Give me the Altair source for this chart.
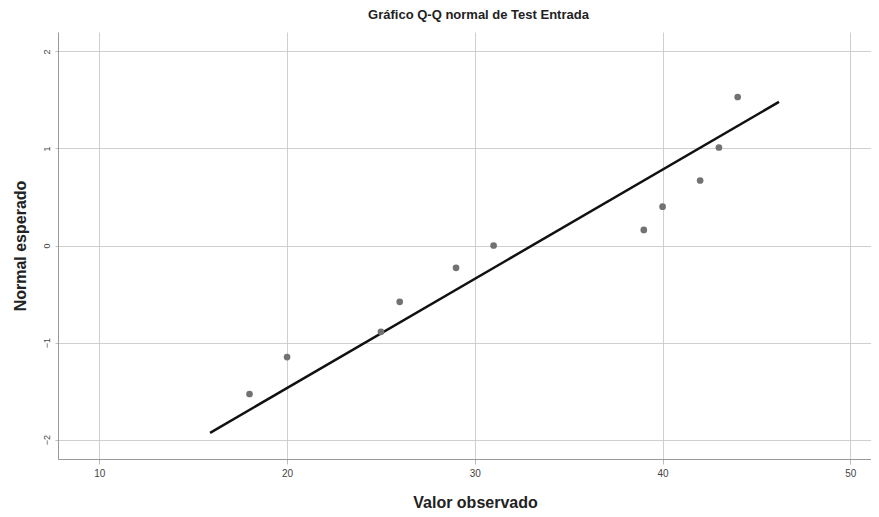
import altair as alt
import pandas as pd

observed = [18, 20, 25, 26, 29, 31, 39, 40, 42, 43, 44]
expected = [-1.53, -1.15, -0.89, -0.58, -0.23, 0.0, 0.16, 0.40, 0.67, 1.01, 1.53]
line_x = [15.9, 46.2]
line_y = [-1.93, 1.48]
x_ticks = [10, 20, 30, 40, 50]
y_ticks = [-2, -1, 0, 1, 2]

pts = pd.DataFrame({"x": observed, "y": expected})
ln = pd.DataFrame({"x": line_x, "y": line_y})

xs = alt.Scale(domain=[7.8, 51.1], nice=False, zero=False)
ys = alt.Scale(domain=[-2.2, 2.2], nice=False, zero=False)

xax = alt.Axis(values=x_ticks, format="d", title="Valor observado", grid=True, gridColor="#cfcfcf",
               domainColor="#999999", tickColor="#bbbbbb", tickSize=5,
               labelFont="Liberation Sans", labelFontSize=10, labelColor="#444444",
               titleFont="Liberation Sans", titleFontSize=16, titleFontWeight="bold",
               titleColor="#222222", titlePadding=16, labelPadding=4, titleX=417)
yax = alt.Axis(values=y_ticks, format="d", title="Normal esperado", grid=True, gridColor="#cfcfcf",
               domainColor="#999999", tickColor="#bbbbbb", tickSize=3,
               labelFont="Liberation Sans", labelFontSize=9, labelColor="#444444",
               labelAngle=270, labelAlign="center", labelBaseline="bottom", labelPadding=4,
               titleFont="Liberation Sans", titleFontSize=16, titleFontWeight="bold",
               titleColor="#222222", titlePadding=14)

points = alt.Chart(pts).mark_circle(size=45, color="#727272", opacity=1).encode(
    x=alt.X("x:Q", scale=xs, axis=xax),
    y=alt.Y("y:Q", scale=ys, axis=yax),
)
line = alt.Chart(ln).mark_line(color="#111111", strokeWidth=2.5).encode(
    x=alt.X("x:Q", scale=xs),
    y=alt.Y("y:Q", scale=ys),
)

chart = alt.layer(line, points).properties(
    width=813, height=427,
    autosize=alt.AutoSizeParams(type="none"),
    padding={"left": 50, "top": 24, "right": 0, "bottom": 52},
    title=alt.TitleParams("Gráfico Q-Q normal de Test Entrada", font="Liberation Sans",
                          fontSize=13, fontWeight="bold", color="#222222", anchor="middle",
                          offset=10, dx=14),
).configure_view(stroke=None)

chart.save("out.html", embed_options={"renderer": "svg", "actions": False})
